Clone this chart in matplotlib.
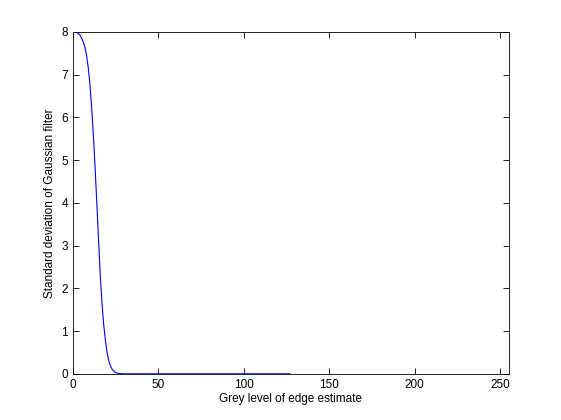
import matplotlib
matplotlib.use("Agg")
import matplotlib.pyplot as plt

plt.rcParams['font.family'] = ['Liberation Sans', 'DejaVu Sans']

grey_level = list(range(0, 128))
sigma_values = [
    8.0, 8.0, 7.99, 7.97, 7.93, 7.86, 7.77, 7.64, 7.45, 7.15,
    6.75, 6.2, 5.55, 4.8, 3.95, 3.05, 2.3, 1.65, 1.15, 0.78,
    0.5, 0.3, 0.18, 0.1, 0.06, 0.03, 0.015, 0.007, 0.003, 0.001,
    0, 0, 0, 0, 0, 0, 0, 0, 0, 0,
    0, 0, 0, 0, 0, 0, 0, 0, 0, 0,
    0, 0, 0, 0, 0, 0, 0, 0, 0, 0,
    0, 0, 0, 0, 0, 0, 0, 0, 0, 0,
    0, 0, 0, 0, 0, 0, 0, 0, 0, 0,
    0, 0, 0, 0, 0, 0, 0, 0, 0, 0,
    0, 0, 0, 0, 0, 0, 0, 0, 0, 0,
    0, 0, 0, 0, 0, 0, 0, 0, 0, 0,
    0, 0, 0, 0, 0, 0, 0, 0, 0, 0,
    0, 0, 0, 0, 0, 0, 0, 0,
]
x_ticks = [0, 50, 100, 150, 200, 250]
y_ticks = [0, 1, 2, 3, 4, 5, 6, 7, 8]
x_label = "Grey level of edge estimate"
y_label = "Standard deviation of Gaussian filter"

fig = plt.figure(figsize=(5.61, 4.2), dpi=100)
ax = fig.add_axes([0.13, 0.11, 0.777, 0.814])
ax.plot(grey_level, sigma_values, color=(0, 0, 1), linewidth=0.8)
ax.set_xlim(0, 255)
ax.set_ylim(0, 8)
ax.set_xticks(x_ticks)
ax.set_yticks(y_ticks)
ax.tick_params(direction='in', length=4, width=0.6, labelsize=8.5,
               top=True, right=True, colors='black')
for s in ax.spines.values():
    s.set_linewidth(0.6)
ax.set_xlabel(x_label, fontsize=8.5, labelpad=2)
ax.set_ylabel(y_label, fontsize=8.5, labelpad=4)
fig.savefig("out.png", dpi=100)
